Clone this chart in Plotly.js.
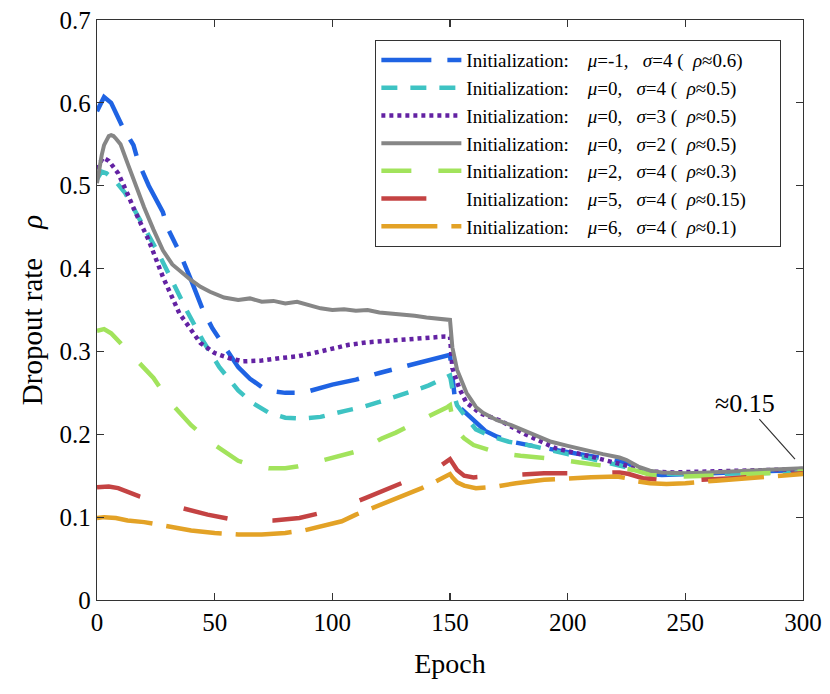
<!DOCTYPE html>
<html>
<head>
<meta charset="utf-8">
<script src="https://cdn.plot.ly/plotly-3.0.1.min.js"></script>
<style>html,body{margin:0;padding:0;background:#fff;}#chart{width:830px;height:694px;}</style>
</head>
<body>
<div id="chart"></div>
<script>
// ---- data ----
const names = [
  'Initialization:    <i>μ</i>=-1,   <i>σ</i>=4 (  <i>ρ</i>≈0.6)',
  'Initialization:    <i>μ</i>=0,   <i>σ</i>=4 (  <i>ρ</i>≈0.5)',
  'Initialization:    <i>μ</i>=0,   <i>σ</i>=3 (  <i>ρ</i>≈0.5)',
  'Initialization:    <i>μ</i>=0,   <i>σ</i>=2 (  <i>ρ</i>≈0.5)',
  'Initialization:    <i>μ</i>=2,   <i>σ</i>=4 (  <i>ρ</i>≈0.3)',
  'Initialization:    <i>μ</i>=5,   <i>σ</i>=4 (  <i>ρ</i>≈0.15)',
  'Initialization:    <i>μ</i>=6,   <i>σ</i>=4 (  <i>ρ</i>≈0.1)'
];

const blueX = [0,3,6,11,15.5,17.5,22,28,30,34,35,40,45,49,53,60,65,70,75,80,85,90,100,110,120,130,140,145,150,151,152,154,157,161,165,170,178,185,195,205,215,225,230,235,240,250,260,270,280,290,300];
const blueY = [0.59,0.607,0.60,0.57,0.549,0.529,0.50,0.468,0.449,0.428,0.42,0.386,0.35,0.328,0.311,0.281,0.267,0.257,0.252,0.25,0.25,0.252,0.26,0.266,0.274,0.281,0.289,0.292,0.296,0.27,0.245,0.233,0.225,0.213,0.204,0.197,0.19,0.186,0.181,0.175,0.17,0.166,0.158,0.152,0.151,0.152,0.153,0.154,0.155,0.156,0.157];

const cyanX = [0,2,4,8,12,19,26,32,38,45,52,60,66,73,80,87,95,105,113,120,127,134,141,149,150,151,153,157,161,168,175,185,192,200,209,217,225,230,235,245,260,280,300];
const cyanY = [0.508,0.517,0.515,0.505,0.491,0.455,0.419,0.385,0.35,0.313,0.281,0.253,0.238,0.226,0.22,0.219,0.221,0.228,0.233,0.239,0.245,0.252,0.259,0.269,0.271,0.255,0.235,0.22,0.206,0.197,0.191,0.186,0.181,0.176,0.171,0.166,0.161,0.157,0.153,0.152,0.152,0.153,0.154];

const purpleX = [0,2.5,5,9,13,16,22,28,35,40,44,50,56,62,70,78,85,92,100,107,115,127,138,148,150,151,154,157,163,171,182,195,210,221,228,235,245,260,280,300];
const purpleY = [0.52,0.534,0.53,0.515,0.49,0.47,0.434,0.39,0.346,0.325,0.31,0.298,0.292,0.288,0.289,0.292,0.294,0.298,0.304,0.308,0.311,0.314,0.316,0.318,0.318,0.28,0.255,0.238,0.225,0.217,0.2,0.183,0.173,0.165,0.16,0.155,0.154,0.155,0.156,0.158];

const grayX = [0,1,2,3,4,5,6,7,8,10,13,16,20,24,28,32,36,40,44,48,54,60,65,70,75,80,85,90,95,100,105,110,115,120,125,130,135,140,145,150,151,153,157,161,164,170,176,185,193,200,207,215,222,225,230,235,240,250,260,270,280,290,300];
const grayY = [0.503,0.522,0.537,0.549,0.556,0.56,0.561,0.56,0.557,0.55,0.527,0.503,0.474,0.447,0.422,0.405,0.395,0.386,0.378,0.372,0.365,0.362,0.364,0.36,0.361,0.358,0.36,0.356,0.352,0.35,0.351,0.349,0.35,0.347,0.346,0.344,0.343,0.341,0.34,0.338,0.305,0.278,0.25,0.233,0.226,0.217,0.211,0.2,0.191,0.186,0.181,0.176,0.172,0.169,0.161,0.156,0.154,0.153,0.154,0.155,0.156,0.157,0.159];

const greenX = [0,3,6,10,15,24,31,40,49,55,60,66,73,80,85,91,97,104,110,116,121,127,132,138,144,149,150,151,153,156,160,165,171,180,192,205,215,222,228,235,249,260,280,300];
const greenY = [0.325,0.327,0.322,0.31,0.296,0.268,0.239,0.211,0.189,0.178,0.168,0.162,0.159,0.159,0.161,0.165,0.169,0.174,0.179,0.187,0.195,0.202,0.209,0.217,0.225,0.233,0.235,0.22,0.205,0.195,0.187,0.182,0.177,0.174,0.171,0.166,0.162,0.16,0.157,0.151,0.149,0.15,0.152,0.155];

const redX = [0,5,9,18,28,38,47,56,66,75,86,95,105,114,123,132,141,146,150,151,153,156,160,170,178,190,205,215,222,226,232,240,256,270,285,300];
const redY = [0.136,0.137,0.135,0.125,0.117,0.109,0.103,0.098,0.096,0.096,0.099,0.105,0.113,0.123,0.133,0.144,0.155,0.162,0.17,0.165,0.157,0.15,0.148,0.15,0.151,0.153,0.153,0.153,0.154,0.152,0.147,0.145,0.145,0.147,0.15,0.153];

const orangeX = [0,3,8,13,20,30,40,50,60,70,80,88,96,104,110,118,125,132,138,144,149,150,151,153,156,161,170,178,190,200,210,221,225,230,235,242,250,263,280,300];
const orangeY = [0.099,0.1,0.099,0.096,0.094,0.089,0.084,0.081,0.079,0.079,0.081,0.084,0.089,0.095,0.103,0.112,0.119,0.127,0.135,0.143,0.151,0.152,0.148,0.142,0.138,0.135,0.137,0.141,0.145,0.147,0.148,0.149,0.147,0.143,0.141,0.14,0.141,0.144,0.148,0.152];

const xTicks = [0,50,100,150,200,250,300];
const yTicks = [0,0.1,0.2,0.3,0.4,0.5,0.6,0.7];

// ---- styling ----
const FONT = 'Liberation Serif';
function tr(x, y, name, color, dash, width) {
  return {x: x, y: y, name: name + '\u00A0\u00A0\u00A0\u00A0\u00A0\u00A0', type: 'scatter', mode: 'lines',
          line: {color: color, dash: dash, width: width}};
}
const data = [
  tr(blueX, blueY, names[0], '#1f63e3', '50px,16px,18px,16px', 4.5),
  tr(cyanX, cyanY, names[1], '#3ec3c3', '16px,13px', 4.5),
  tr(purpleX, purpleY, names[2], '#6322a3', '4px,4px', 4.5),
  tr(grayX, grayY, names[3], '#868686', 'solid', 4),
  tr(greenX, greenY, names[4], '#a2e35c', '30px,27px', 4.5),
  tr(redX, redY, names[5], '#c44343', '45px,45px', 4.5),
  tr(orangeX, orangeY, names[6], '#e3a226', '56px,14px', 4.5)
];

const axisCommon = {
  showline: true, linecolor: '#333', linewidth: 1.3, mirror: 'ticks',
  ticks: 'inside', ticklen: 7, tickcolor: '#333', tickwidth: 1.2,
  showgrid: false, zeroline: false,
  tickfont: {family: FONT, size: 25, color: '#000'}
};

const layout = {
  width: 830, height: 694,
  margin: {l: 97, r: 27, t: 20, b: 94},
  paper_bgcolor: '#fff', plot_bgcolor: '#fff',
  font: {family: FONT, color: '#000'},
  xaxis: Object.assign({}, axisCommon, {
    range: [0, 300], tickvals: xTicks,
    title: {text: 'Epoch', font: {family: FONT, size: 28, color: '#000'}, standoff: 18}
  }),
  yaxis: Object.assign({}, axisCommon, {
    range: [0, 0.7], tickvals: yTicks, ticktext: yTicks.map(String), ticksuffix: '\u00A0',
    title: {text: 'Dropout rate\u00A0\u00A0\u00A0\u00A0<i>ρ</i>', font: {family: FONT, size: 29, color: '#000'}, standoff: 8}
  }),
  showlegend: true,
  legend: {
    x: 0.394, y: 0.9655, xanchor: 'left', yanchor: 'top',
    bordercolor: '#333', borderwidth: 1.2, bgcolor: '#fff',
    font: {family: FONT, size: 19, color: '#000'},
    itemwidth: 80, tracegroupgap: 0
  },
  annotations: [{
    x: 296.6, y: 0.17, xref: 'x', yref: 'y',
    text: '≈0.15', showarrow: true, arrowhead: 0, arrowwidth: 1.2, arrowcolor: '#333',
    ax: -50, ay: -56,
    font: {family: FONT, size: 26, color: '#000'}
  }]
};

Plotly.newPlot('chart', data, layout, {displayModeBar: false, staticPlot: true});
</script>
</body>
</html>
